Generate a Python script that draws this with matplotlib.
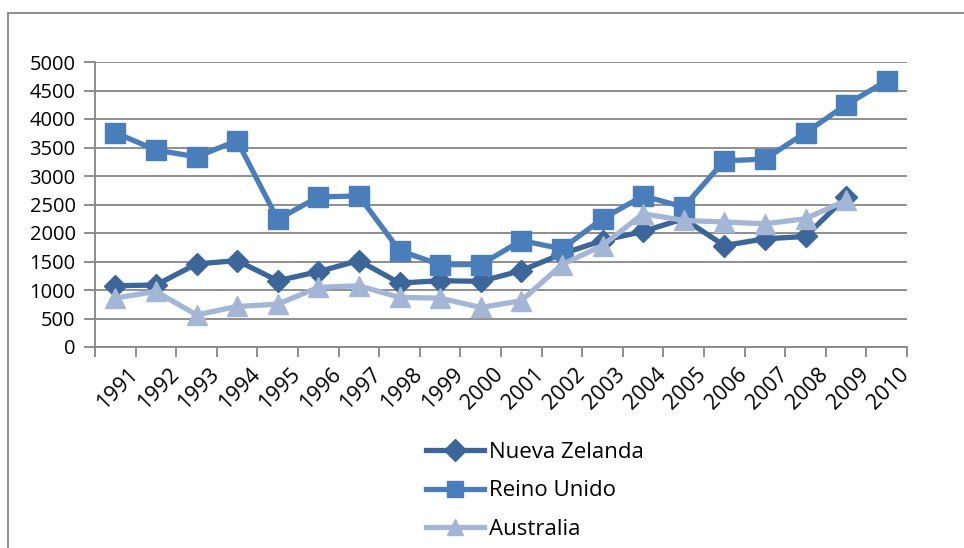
import matplotlib.pyplot as plt
import matplotlib.transforms as mtransforms
from matplotlib.lines import Line2D
import numpy as np

# Values
years = [str(y) for y in range(1991, 2011)]
nueva_zelanda = [1075, 1087, 1457, 1516, 1163, 1322, 1516, 1122, 1163, 1152,
                 1340, 1633, 1868, 2027, 2250, 1780, 1898, 1939, 2632, np.nan]
reino_unido = [3760, 3455, 3337, 3619, 2239, 2632, 2650, 1692, 1445, 1445,
               1868, 1722, 2250, 2650, 2456, 3267, 3296, 3760, 4248, 4671]
australia = [858, 975, 564, 711, 752, 1046, 1075, 870, 858, 693,
             811, 1445, 1780, 2338, 2221, 2192, 2162, 2250, 2573, np.nan]

plt.rcParams['font.family'] = ['Open Sans', 'DejaVu Sans']

fig = plt.figure(figsize=(9.64, 5.48), dpi=100)
ax = fig.add_axes([95/964, 1-347/548, (907-95)/964, (347-62)/548])

x = np.arange(len(years))
grid_col = '#868686'

ax.plot(x, nueva_zelanda, color='#3C6699', lw=3.8, marker='D', ms=11,
        label='Nueva Zelanda', zorder=3)
ax.plot(x, reino_unido, color='#4A7EBB', lw=3.8, marker='s', ms=14,
        label='Reino Unido', zorder=3)
ax.plot(x, australia, color='#A4B6D5', lw=3.8, marker='^', ms=14,
        label='Australia', zorder=3)

ax.set_xlim(-0.5, len(years) - 0.5)
ax.set_ylim(0, 5000)
ax.set_yticks(range(0, 5001, 500))
ax.yaxis.grid(True, color=grid_col, lw=1.3)
ax.set_axisbelow(True)

# tick marks at category boundaries, labels at centers
ax.set_xticks(np.arange(-0.5, len(years), 1))
ax.set_xticklabels([])
ax.set_xticks(x, minor=True)
ax.set_xticklabels(years, minor=True, rotation=45, ha='right', va='top', fontsize=15.5)
ax.tick_params(axis='x', which='major', length=7, width=1.3, color=grid_col, direction='out')
ax.tick_params(axis='x', which='minor', length=0, pad=12)
ax.tick_params(axis='y', length=8, width=1.3, color=grid_col, labelsize=14.5, pad=6)

offset = mtransforms.ScaledTranslation(27/100, 0, fig.dpi_scale_trans)
for lbl in ax.xaxis.get_minorticklabels():
    lbl.set_transform(lbl.get_transform() + offset)

for side in ['top', 'right']:
    ax.spines[side].set_visible(False)
for side in ['left', 'bottom']:
    ax.spines[side].set_color(grid_col)
    ax.spines[side].set_linewidth(1.3)

leg = fig.legend(loc='upper left', bbox_to_anchor=(426/964, 1-442/548), frameon=False,
                 fontsize=16, handlelength=2.6, labelspacing=0.78, handletextpad=0.25,
                 borderaxespad=0, borderpad=0)
for h in leg.legend_handles:
    h.set_markersize(11)

# chart area border (top and left edges visible)
fig.add_artist(Line2D([8/964, 8/964], [0, 1-13/548], color='#868686', lw=1.3))
fig.add_artist(Line2D([8/964, 1], [1-13/548, 1-13/548], color='#868686', lw=1.3))

fig.savefig('out.png', dpi=100)
